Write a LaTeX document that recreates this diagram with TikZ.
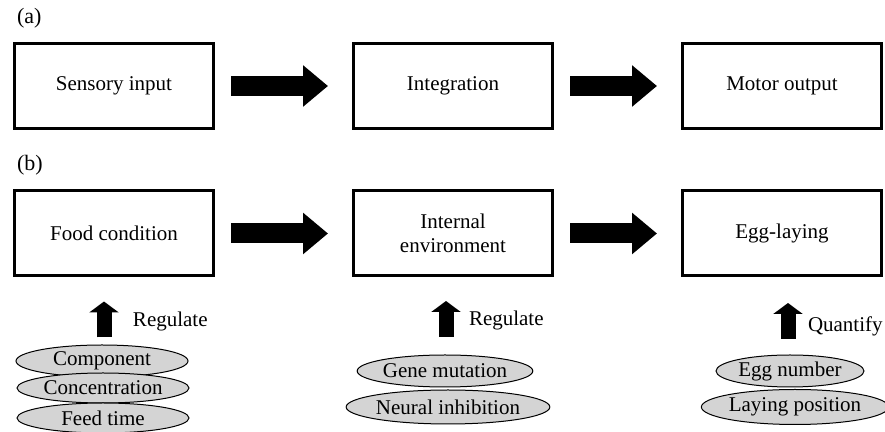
\documentclass[tikz,border=0pt]{standalone}
\usepackage{fontspec}
\setmainfont{Liberation Serif}
\usetikzlibrary{arrows.meta,shapes.geometric}

\begin{document}
\begin{tikzpicture}[x=0.5pt, y=-0.5pt,
  stage/.style={draw, line width=1.5pt, minimum width=99.5pt, minimum height=42.5pt,
    align=center, font=\fontsize{10.5pt}{12pt}\selectfont},
  oval/.style={ellipse, draw, line width=0.5pt, fill=black!17, inner sep=0pt,
    minimum height=16pt, font=\fontsize{10.5pt}{12pt}\selectfont},
  bigarrow/.style={line width=10pt, -{Triangle[length=12.5pt, width=20pt]},
    shorten <=8pt, shorten >=12pt},
  uparrow/.style={line width=7.5pt, -{Triangle[length=5.5pt, width=14.5pt]}},
  tag/.style={anchor=west, inner sep=0pt, outer sep=0pt,
    font=\fontsize{10.5pt}{12pt}\selectfont}]

\useasboundingbox (0,0) rectangle (885,432);

%------------------ ROW (a) ------------------%
\node[anchor=west, font=\fontsize{11pt}{12pt}\selectfont] (lbla) at (10,18) {(a)};

\node[stage] (sens)  at (114,86) {Sensory input};
\node[stage] (integ) at (453,86) {Integration};
\node[stage] (motor) at (782,86) {Motor output};

\draw[bigarrow] (sens) -- (integ);
\draw[bigarrow] (integ) -- (motor);

%------------------ ROW (b) ------------------%
\node[anchor=west, font=\fontsize{11pt}{12pt}\selectfont] (lblb) at (10,165) {(b)};

\node[stage] (food) at (114,233.5) {Food condition};
\node[stage] (env)  at (453,233.5) {Internal\\environment};
\node[stage] (egg)  at (782,233.5) {Egg-laying};

\draw[bigarrow] (food) -- (env);
\draw[bigarrow] (env) -- (egg);

%------------------ FACTORS ------------------%
\node[oval, minimum width=86pt] (comp) at (102,361) {Component};
\node[oval, minimum width=86pt, minimum height=15pt] (conc) at (103,388) {Concentration};
\node[oval, minimum width=86pt, minimum height=15pt] (feed) at (103,418) {Feed time};

\node[oval, minimum width=82pt] (gene)  at (445,371) {Gene mutation};
\node[oval, minimum width=86pt, minimum height=17pt] (neur) at (448,407) {Neural inhibition};

\node[oval, minimum width=74pt] (eggn) at (790,371) {Egg number};
\node[oval, minimum width=88pt, minimum height=17.5pt] (lay) at (795,407) {Laying position};

\draw[uparrow] ([xshift=1pt, yshift=3.5pt]comp.north) -- ++(0,-36)
  node[tag, pos=0.45, xshift=14.5pt] {Regulate};
\draw[uparrow] ([xshift=0.5pt, yshift=8.75pt]gene.north) -- ++(0,-36)
  node[tag, pos=0.45, xshift=11.5pt] {Regulate};
\draw[uparrow] ([xshift=-1pt, yshift=7.75pt]eggn.north) -- ++(0,-36)
  node[tag, pos=0.35, xshift=10pt] {Quantify};

\end{tikzpicture}
\end{document}
